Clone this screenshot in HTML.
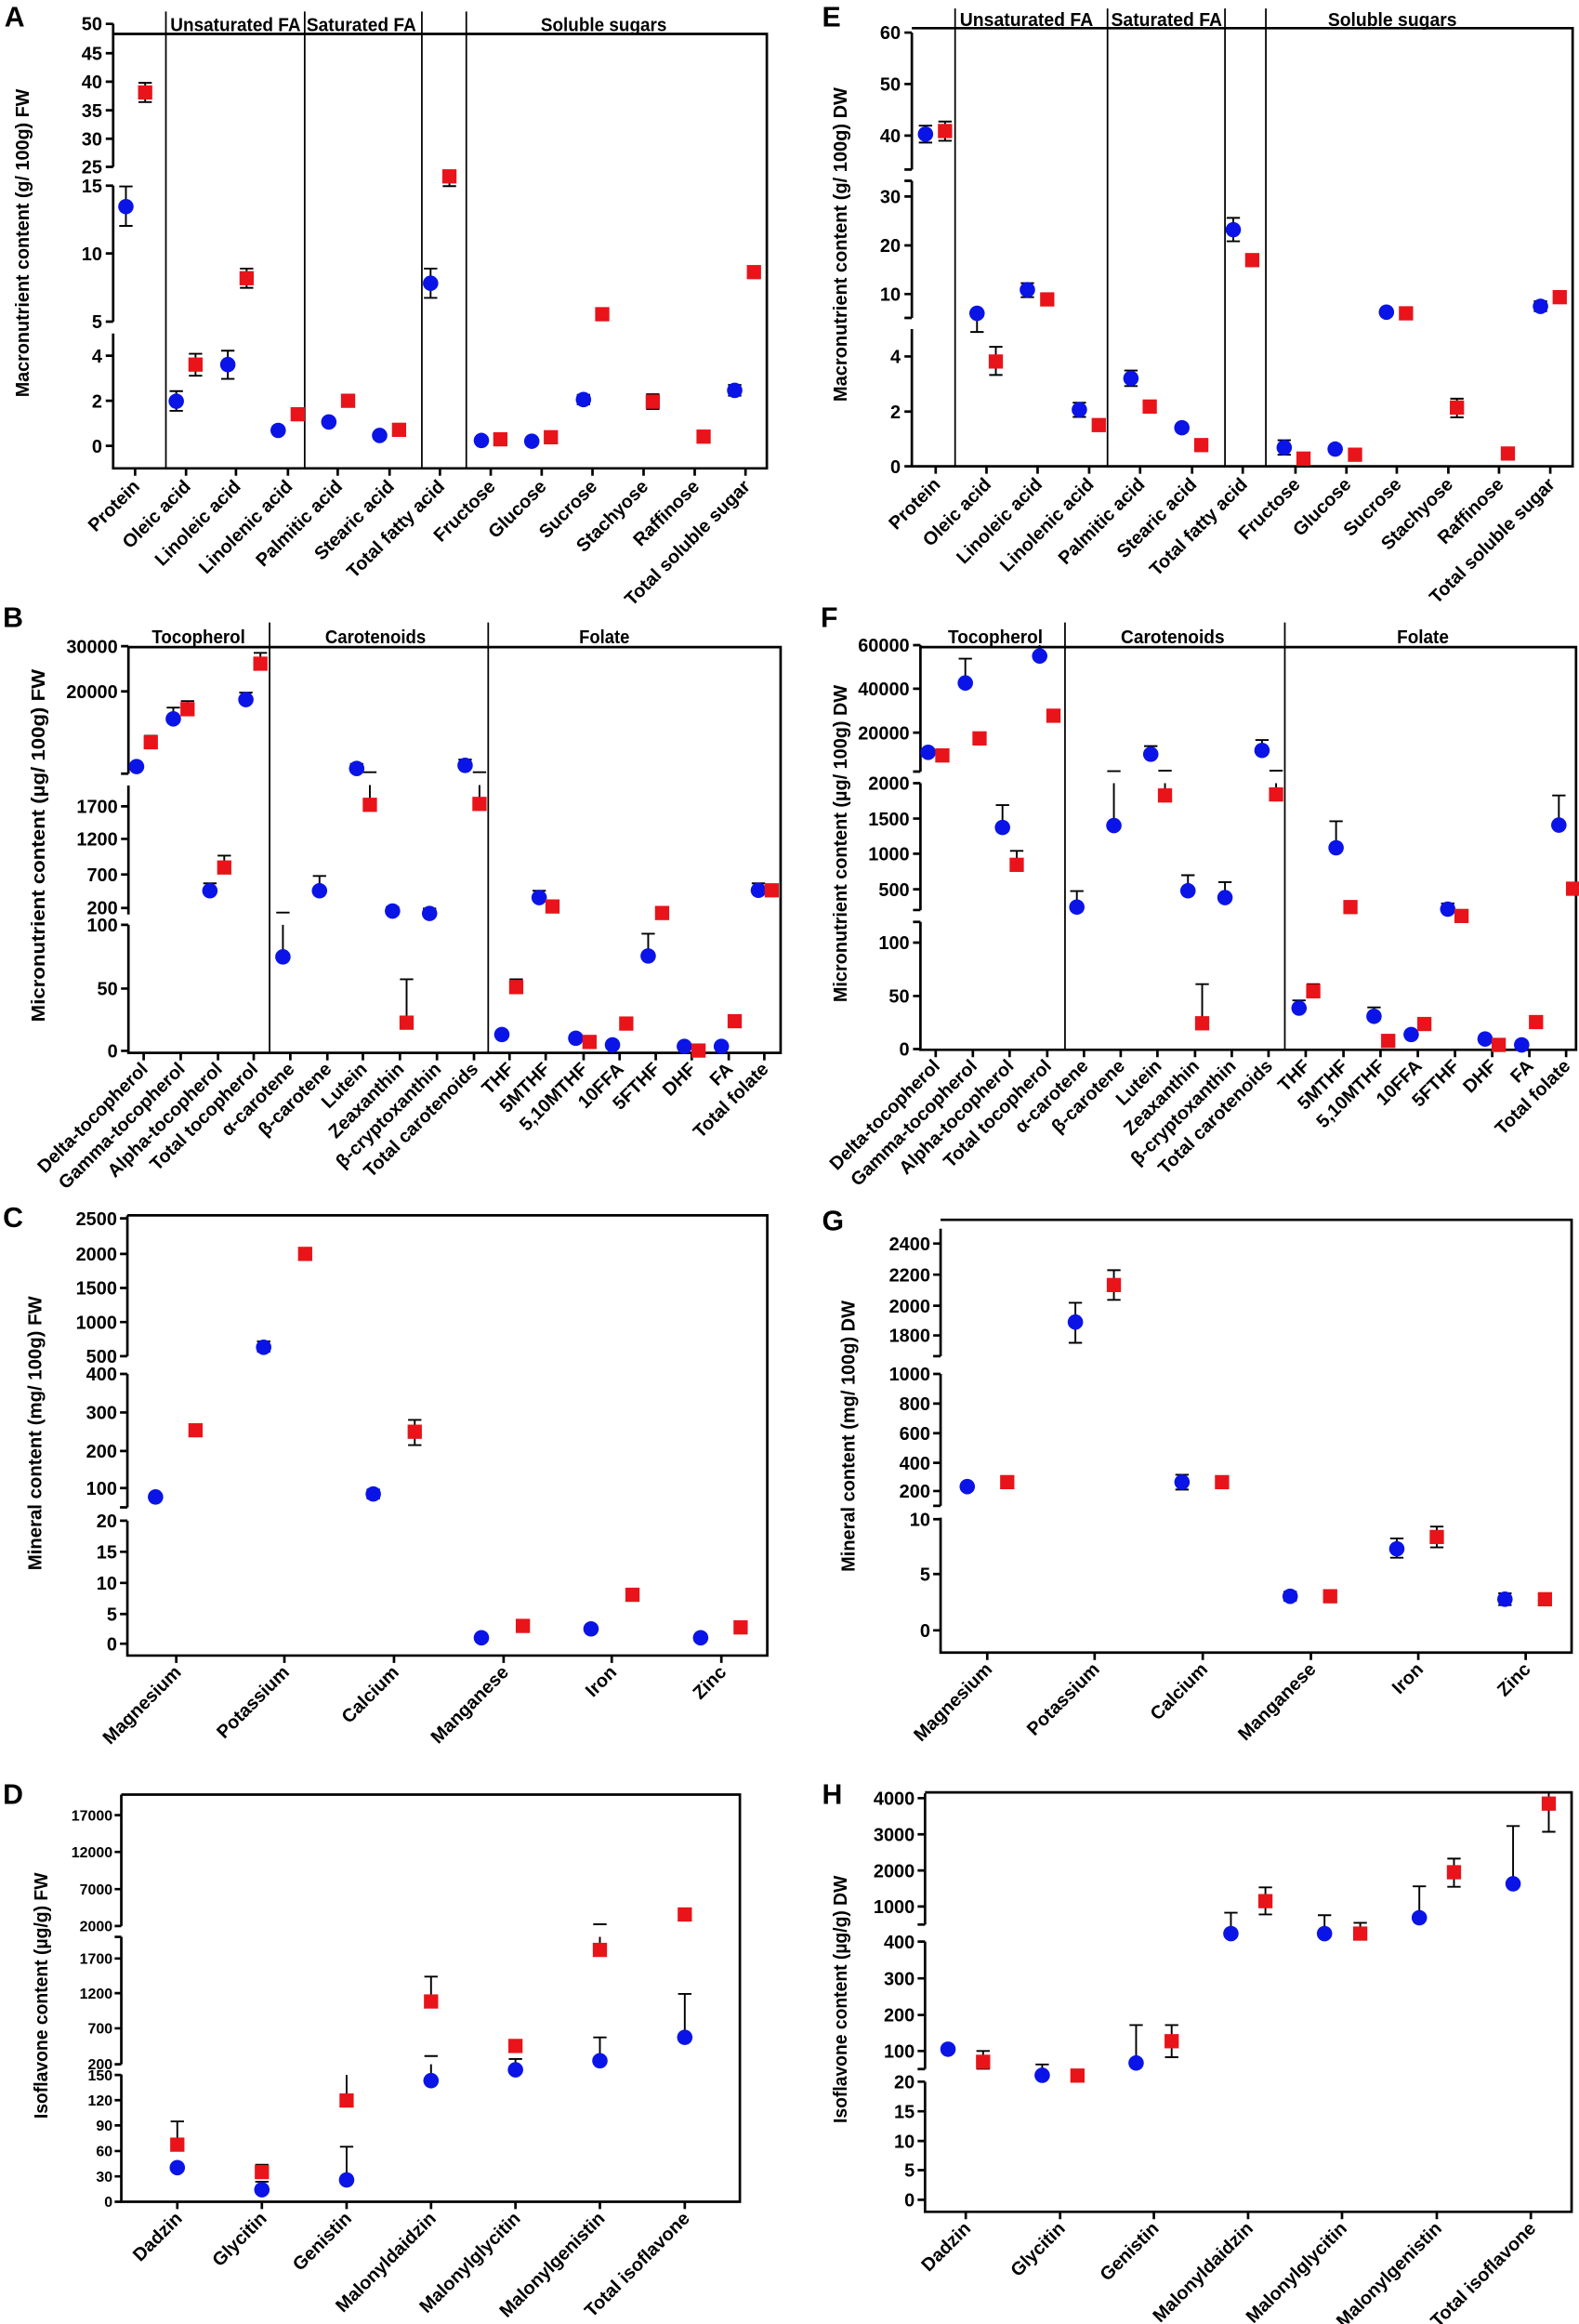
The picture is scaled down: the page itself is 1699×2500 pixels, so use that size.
<!DOCTYPE html>
<html><head><meta charset="utf-8"><style>
html,body{margin:0;padding:0;background:#fff}
svg{display:block}
text{font-family:"Liberation Sans",Arial,sans-serif;font-weight:bold;fill:#000}
.tk{font-size:12.5px;text-anchor:end}
.td{font-size:10px;text-anchor:end}
.hd{font-size:13px;text-anchor:middle}
.cl{font-size:12.5px;text-anchor:end}
.yt{font-size:12.5px;text-anchor:middle}
.pl{font-size:19px}
.ax{stroke:#000;stroke-width:1.7;fill:none}
.sp{stroke:#000;stroke-width:1.1;fill:none}
.eb{stroke:#000;stroke-width:1.2;fill:none}
</style></head><body>
<svg width="1699" height="2500" viewBox="0 0 1066 1568" preserveAspectRatio="none" xmlns="http://www.w3.org/2000/svg">
<defs>
<ellipse id="b" cx="0" cy="0" rx="5.2" ry="5.2" fill="#0a14e6"/>
<rect id="r" x="-4.8" y="-4.8" width="9.6" height="9.6" fill="#e8141a"/>
</defs>

<!-- ===== PANEL A ===== -->
<text class="pl" x="3" y="18">A</text>
<path class="ax" d="M76.4 16V112.6M76.4 125.3V217M76.4 225V316H517.7V22.9H76.4"/>
<path class="ax" d="M71.4 16.1h5M71.4 35.9h5M71.4 55.1h5M71.4 74.4h5M71.4 93.6h5M71.4 112.6h5M71.4 125.3h5M71.4 171h5M71.4 217h5M71.4 240h5M71.4 270.4h5M71.4 300.8h5"/>
<text class="tk" x="69" y="20.5">50</text><text class="tk" x="69" y="40.4">45</text><text class="tk" x="69" y="59.6">40</text><text class="tk" x="69" y="78.9">35</text><text class="tk" x="69" y="98.1">30</text><text class="tk" x="69" y="117.1">25</text><text class="tk" x="69" y="129.8">15</text><text class="tk" x="69" y="175.5">10</text><text class="tk" x="69" y="221.5">5</text><text class="tk" x="69" y="244.5">4</text><text class="tk" x="69" y="274.9">2</text><text class="tk" x="69" y="305.3">0</text>
<path class="sp" d="M112 7.8V316M205.7 7.8V316M284.8 7.8V316M314.8 7.8V316"/>
<text class="hd" x="159" y="21" textLength="88" lengthAdjust="spacingAndGlyphs">Unsaturated FA</text>
<text class="hd" x="244" y="21" textLength="74" lengthAdjust="spacingAndGlyphs">Saturated FA</text>
<text class="hd" x="407.6" y="21" textLength="85" lengthAdjust="spacingAndGlyphs">Soluble sugars</text>
<path class="ax" d="M91.2 316v5M125.6 316v5M159.3 316v5M194.4 316v5M228 316v5M263 316v5M297 316v5M331.3 316v5M365.7 316v5M400 316v5M434.5 316v5M469 316v5M503.3 316v5"/>
<text class="cl" transform="translate(95,329) rotate(-45)">Protein</text>
<text class="cl" transform="translate(129.4,329) rotate(-45)">Oleic acid</text>
<text class="cl" transform="translate(163.1,329) rotate(-45)">Linoleic acid</text>
<text class="cl" transform="translate(198.2,329) rotate(-45)">Linolenic acid</text>
<text class="cl" transform="translate(231.8,329) rotate(-45)">Palmitic acid</text>
<text class="cl" transform="translate(266.8,329) rotate(-45)">Stearic acid</text>
<text class="cl" transform="translate(300.8,329) rotate(-45)">Total fatty acid</text>
<text class="cl" transform="translate(335.1,329) rotate(-45)">Fructose</text>
<text class="cl" transform="translate(369.5,329) rotate(-45)">Glucose</text>
<text class="cl" transform="translate(403.8,329) rotate(-45)">Sucrose</text>
<text class="cl" transform="translate(438.3,329) rotate(-45)">Stachyose</text>
<text class="cl" transform="translate(472.8,329) rotate(-45)">Raffinose</text>
<text class="cl" transform="translate(507.1,329) rotate(-45)">Total soluble sugar</text>
<text class="yt" transform="translate(19.5,164) rotate(-90)" textLength="208" lengthAdjust="spacingAndGlyphs">Macronutrient content (g/ 100g) FW</text>
<path class="eb" d="M85 125.8V152.4M80.5 125.8h9M80.5 152.4h9M98 55.9V68.9M93.5 55.9h9M93.5 68.9h9M119 263.9V277.2M114.5 263.9h9M114.5 277.2h9M132 238.7V253.5M127.5 238.7h9M127.5 253.5h9M153.8 236.6V255.6M149.3 236.6h9M149.3 255.6h9M166.5 181.2V194.2M162 181.2h9M162 194.2h9M290.7 181.2V201M286.2 181.2h9M286.2 201h9M303.4 119V125.6M298.9 125.6h9M393.9 266.4V272.8M389.4 266.4h9M389.4 272.8h9M440.7 266V276M436.2 266h9M436.2 276h9M496 259.7V267M491.5 259.7h9M491.5 267h9"/>
<use href="#b" x="85" y="139.4"/><use href="#r" x="98" y="62.4"/>
<use href="#b" x="119" y="270.7"/><use href="#r" x="132" y="246"/>
<use href="#b" x="153.8" y="246"/><use href="#r" x="166.5" y="187.7"/>
<use href="#b" x="187.8" y="290.4"/><use href="#r" x="201" y="279.5"/>
<use href="#b" x="222" y="284.7"/><use href="#r" x="235" y="270.4"/>
<use href="#b" x="256.3" y="293.8"/><use href="#r" x="269.4" y="290"/>
<use href="#b" x="290.7" y="191.1"/><use href="#r" x="303.4" y="119"/>
<use href="#b" x="325" y="297.2"/><use href="#r" x="337.8" y="296.4"/>
<use href="#b" x="359" y="297.7"/><use href="#r" x="371.9" y="295"/>
<use href="#b" x="393.9" y="269.6"/><use href="#r" x="406.6" y="212"/>
<use href="#r" x="440.7" y="271"/>
<use href="#r" x="475" y="294.6"/>
<use href="#b" x="496" y="263.4"/><use href="#r" x="509" y="183.6"/>

<!-- ===== PANEL E ===== -->
<text class="pl" x="555" y="18">E</text>
<path class="ax" d="M615.6 22V114.4M615.6 122V214.5M615.6 222V314.6H1061.7V19H615.6"/>
<path class="ax" d="M610.6 22h5M610.6 56.7h5M610.6 91.5h5M610.6 114.4h5M610.6 122h5M610.6 132.6h5M610.6 165.6h5M610.6 198.4h5M610.6 214.5h5M610.6 240.5h5M610.6 277.7h5M610.6 314.6h5"/>
<text class="tk" x="608" y="26.5">60</text><text class="tk" x="608" y="61.2">50</text><text class="tk" x="608" y="96">40</text><text class="tk" x="608" y="137.1">30</text><text class="tk" x="608" y="170.1">20</text><text class="tk" x="608" y="202.9">10</text><text class="tk" x="608" y="245">4</text><text class="tk" x="608" y="282.2">2</text><text class="tk" x="608" y="319.1">0</text>
<path class="sp" d="M644.8 5.7V314.6M747.7 5.7V314.6M827 5.7V314.6M854.6 5.7V314.6"/>
<text class="hd" x="693" y="17.5" textLength="90" lengthAdjust="spacingAndGlyphs">Unsaturated FA</text>
<text class="hd" x="787.6" y="17.5" textLength="75" lengthAdjust="spacingAndGlyphs">Saturated FA</text>
<text class="hd" x="940" y="17.5" textLength="87" lengthAdjust="spacingAndGlyphs">Soluble sugars</text>
<path class="ax" d="M631.7 314.6v5M666 314.6v5M700.5 314.6v5M735.3 314.6v5M769.7 314.6v5M804.8 314.6v5M839 314.6v5M874.6 314.6v5M909 314.6v5M943 314.6v5M977.8 314.6v5M1012 314.6v5M1046.6 314.6v5"/>
<text class="cl" transform="translate(635.5,327.6) rotate(-45)">Protein</text>
<text class="cl" transform="translate(669.8,327.6) rotate(-45)">Oleic acid</text>
<text class="cl" transform="translate(704.3,327.6) rotate(-45)">Linoleic acid</text>
<text class="cl" transform="translate(739.1,327.6) rotate(-45)">Linolenic acid</text>
<text class="cl" transform="translate(773.5,327.6) rotate(-45)">Palmitic acid</text>
<text class="cl" transform="translate(808.6,327.6) rotate(-45)">Stearic acid</text>
<text class="cl" transform="translate(842.8,327.6) rotate(-45)">Total fatty acid</text>
<text class="cl" transform="translate(878.4,327.6) rotate(-45)">Fructose</text>
<text class="cl" transform="translate(912.8,327.6) rotate(-45)">Glucose</text>
<text class="cl" transform="translate(946.8,327.6) rotate(-45)">Sucrose</text>
<text class="cl" transform="translate(981.6,327.6) rotate(-45)">Stachyose</text>
<text class="cl" transform="translate(1015.8,327.6) rotate(-45)">Raffinose</text>
<text class="cl" transform="translate(1050.4,327.6) rotate(-45)">Total soluble sugar</text>
<text class="yt" transform="translate(571.5,165) rotate(-90)" textLength="212" lengthAdjust="spacingAndGlyphs">Macronutrient content (g/ 100g) DW</text>
<path class="eb" d="M624.8 84.8V96.2M620.3 84.8h9M620.3 96.2h9M638 82V95M633.5 82h9M633.5 95h9M659.6 211.4V224M655.1 224h9M672.3 234V253M667.8 234h9M667.8 253h9M693.6 191V200.5M689.1 191h9M689.1 200.5h9M728.7 271.7V281.3M724.2 271.7h9M724.2 281.3h9M763.5 250V260.5M759 250h9M759 260.5h9M832.6 147V162.8M828.1 147h9M828.1 162.8h9M867 297V306.8M862.5 297h9M862.5 306.8h9M983.6 269V281.6M979.1 269h9M979.1 281.6h9M1040 203.3V210M1035.5 203.3h9M1035.5 210h9"/>
<use href="#b" x="624.8" y="90.5"/><use href="#r" x="638" y="88.4"/>
<use href="#b" x="659.6" y="211.4"/><use href="#r" x="672.3" y="243.9"/>
<use href="#b" x="693.6" y="195.5"/><use href="#r" x="707" y="202"/>
<use href="#b" x="728.7" y="276.4"/><use href="#r" x="741.8" y="286.8"/>
<use href="#b" x="763.5" y="255.3"/><use href="#r" x="776.2" y="274.3"/>
<use href="#b" x="797.9" y="288.6"/><use href="#r" x="811" y="300.3"/>
<use href="#b" x="832.6" y="155"/><use href="#r" x="845.4" y="175.5"/>
<use href="#b" x="867" y="302"/><use href="#r" x="880" y="309.4"/>
<use href="#b" x="901.4" y="303"/><use href="#r" x="914.8" y="306.8"/>
<use href="#b" x="936" y="210.6"/><use href="#r" x="949.2" y="211.4"/>
<use href="#r" x="983.6" y="275"/>
<use href="#r" x="1018" y="306"/>
<use href="#b" x="1040" y="206.7"/><use href="#r" x="1053" y="200.5"/>

<!-- ===== PANEL B ===== -->
<text class="pl" x="2" y="423">B</text>
<path class="ax" d="M86.7 436V522M86.7 530V617M86.7 624V710.4H527V436.6H86.7"/>
<path class="ax" d="M81.7 436h5M81.7 466.5h5M81.7 522h5M81.7 544h5M81.7 566h5M81.7 590h5M81.7 612.6h5M81.7 624h5M81.7 667h5M81.7 709h5"/>
<text class="tk" x="79.5" y="440.5">30000</text><text class="tk" x="79.5" y="471">20000</text><text class="tk" x="79.5" y="548.5">1700</text><text class="tk" x="79.5" y="570.5">1200</text><text class="tk" x="79.5" y="594.5">700</text><text class="tk" x="79.5" y="617">200</text><text class="tk" x="79.5" y="628.5">100</text><text class="tk" x="79.5" y="671.5">50</text><text class="tk" x="79.5" y="713.5">0</text>
<path class="sp" d="M182 420V710.4M329.6 420V710.4"/>
<text class="hd" x="134" y="434" textLength="63" lengthAdjust="spacingAndGlyphs">Tocopherol</text>
<text class="hd" x="253.5" y="434" textLength="68" lengthAdjust="spacingAndGlyphs">Carotenoids</text>
<text class="hd" x="408" y="434" textLength="34" lengthAdjust="spacingAndGlyphs">Folate</text>
<path class="ax" d="M97 710.4v5M122 710.4v5M147.2 710.4v5M171.3 710.4v5M196 710.4v5M221 710.4v5M245 710.4v5M270 710.4v5M295 710.4v5M320 710.4v5M344 710.4v5M368.4 710.4v5M394 710.4v5M418.3 710.4v5M442.7 710.4v5M467 710.4v5M492 710.4v5M516 710.4v5"/>
<text class="cl" transform="translate(100.5,722) rotate(-45)">Delta-tocopherol</text>
<text class="cl" transform="translate(125.5,722) rotate(-45)">Gamma-tocopherol</text>
<text class="cl" transform="translate(150.7,722) rotate(-45)">Alpha-tocopherol</text>
<text class="cl" transform="translate(174.8,722) rotate(-45)">Total tocopherol</text>
<text class="cl" transform="translate(199.5,722) rotate(-45)">α-carotene</text>
<text class="cl" transform="translate(224.5,722) rotate(-45)">β-carotene</text>
<text class="cl" transform="translate(248.5,722) rotate(-45)">Lutein</text>
<text class="cl" transform="translate(273.5,722) rotate(-45)">Zeaxanthin</text>
<text class="cl" transform="translate(298.5,722) rotate(-45)">β-cryptoxanthin</text>
<text class="cl" transform="translate(323.5,722) rotate(-45)">Total carotenoids</text>
<text class="cl" transform="translate(347.5,722) rotate(-45)">THF</text>
<text class="cl" transform="translate(371.9,722) rotate(-45)">5MTHF</text>
<text class="cl" transform="translate(397.5,722) rotate(-45)">5,10MTHF</text>
<text class="cl" transform="translate(421.8,722) rotate(-45)">10FFA</text>
<text class="cl" transform="translate(446.2,722) rotate(-45)">5FTHF</text>
<text class="cl" transform="translate(470.5,722) rotate(-45)">DHF</text>
<text class="cl" transform="translate(495.5,722) rotate(-45)">FA</text>
<text class="cl" transform="translate(519.5,722) rotate(-45)">Total folate</text>
<text class="yt" transform="translate(30,570.5) rotate(-90)" textLength="238" lengthAdjust="spacingAndGlyphs">Micronutrient content (µg/ 100g) FW</text>
<path class="eb" d="M101.8 500.8V496.4M97.3 496.4h9M117 485V477.4M112.5 477.4h9M126.6 478.5V473M122.1 473h9M141.7 601V596M137.2 596h9M151.4 585.3V577.3M146.9 577.3h9M166 472V467.3M161.5 467.3h9M175.8 447.8V440.5M171.3 440.5h9M191 645.6V624M186.5 615.7h9M215.7 601V591M211.2 591h9M240.8 518.5V515.4M236.3 515.4h9M249.7 543V529.7M245.2 521h9M265 614.7V612M260.5 612h9M274.5 690V660.7M270 660.7h9M290 616.3V613M285.5 613h9M314 516.4V512.5M309.5 512.5h9M323.7 542.4V529.7M319.2 521h9M348.5 666V660.7M344 660.7h9M364 605.6V601M359.5 601h9M437.6 645V630M433.1 630h9M447 616V612M442.5 612h9M496 689V685M491.5 685h9M512 600.7V596M507.5 596h9"/>
<use href="#b" x="92.2" y="517.2"/><use href="#r" x="101.8" y="500.8"/>
<use href="#b" x="117" y="485"/><use href="#r" x="126.6" y="478.5"/>
<use href="#b" x="141.7" y="601"/><use href="#r" x="151.4" y="585.3"/>
<use href="#b" x="166" y="472"/><use href="#r" x="175.8" y="447.8"/>
<use href="#b" x="191" y="645.6"/>
<use href="#b" x="215.7" y="601"/>
<use href="#b" x="240.8" y="518.5"/><use href="#r" x="249.7" y="543"/>
<use href="#b" x="265" y="614.7"/><use href="#r" x="274.5" y="690"/>
<use href="#b" x="290" y="616.3"/>
<use href="#b" x="314" y="516.4"/><use href="#r" x="323.7" y="542.4"/>
<use href="#b" x="338.8" y="698"/><use href="#r" x="348.5" y="666"/>
<use href="#b" x="364" y="605.6"/><use href="#r" x="373" y="611.6"/>
<use href="#b" x="388.7" y="700.5"/><use href="#r" x="398" y="703"/>
<use href="#b" x="413.5" y="705"/><use href="#r" x="422.8" y="690.6"/>
<use href="#b" x="437.6" y="645"/><use href="#r" x="447" y="616"/>
<use href="#b" x="462" y="706"/><use href="#r" x="471.6" y="708.8"/>
<use href="#b" x="487" y="706"/><use href="#r" x="496" y="689"/>
<use href="#b" x="512" y="600.7"/><use href="#r" x="521" y="600.7"/>

<!-- ===== PANEL F ===== -->
<text class="pl" x="554" y="423">F</text>
<path class="ax" d="M621.4 435.3V520.6M621.4 528.4V614M621.4 622V708.3H1064V436.6H621.4"/>
<path class="ax" d="M616.4 435.3h5M616.4 464.7h5M616.4 494.3h5M616.4 520.6h5M616.4 528.4h5M616.4 552.3h5M616.4 576h5M616.4 600h5M616.4 614h5M616.4 622h5M616.4 636h5M616.4 672h5M616.4 707.8h5"/>
<text class="tk" x="614" y="439.8">60000</text><text class="tk" x="614" y="469.2">40000</text><text class="tk" x="614" y="498.8">20000</text><text class="tk" x="614" y="532.9">2000</text><text class="tk" x="614" y="556.8">1500</text><text class="tk" x="614" y="580.5">1000</text><text class="tk" x="614" y="604.5">500</text><text class="tk" x="614" y="640.5">100</text><text class="tk" x="614" y="676.5">50</text><text class="tk" x="614" y="712.3">0</text>
<path class="sp" d="M719 420V708.3M867.4 420V708.3"/>
<text class="hd" x="672" y="434" textLength="64" lengthAdjust="spacingAndGlyphs">Tocopherol</text>
<text class="hd" x="791.7" y="434" textLength="70" lengthAdjust="spacingAndGlyphs">Carotenoids</text>
<text class="hd" x="960.6" y="434" textLength="35" lengthAdjust="spacingAndGlyphs">Folate</text>
<path class="ax" d="M631.7 708.3v5M656.8 708.3v5M681.6 708.3v5M707 708.3v5M731.8 708.3v5M756.6 708.3v5M781.4 708.3v5M806.8 708.3v5M831.6 708.3v5M856.4 708.3v5M881.5 708.3v5M907 708.3v5M932 708.3v5M957.2 708.3v5M982.3 708.3v5M1007.4 708.3v5M1032.5 708.3v5M1057.3 708.3v5"/>
<text class="cl" transform="translate(635.2,720) rotate(-45)">Delta-tocopherol</text>
<text class="cl" transform="translate(660.3,720) rotate(-45)">Gamma-tocopherol</text>
<text class="cl" transform="translate(685.1,720) rotate(-45)">Alpha-tocopherol</text>
<text class="cl" transform="translate(710.5,720) rotate(-45)">Total tocopherol</text>
<text class="cl" transform="translate(735.3,720) rotate(-45)">α-carotene</text>
<text class="cl" transform="translate(760.1,720) rotate(-45)">β-carotene</text>
<text class="cl" transform="translate(784.9,720) rotate(-45)">Lutein</text>
<text class="cl" transform="translate(810.3,720) rotate(-45)">Zeaxanthin</text>
<text class="cl" transform="translate(835.1,720) rotate(-45)">β-cryptoxanthin</text>
<text class="cl" transform="translate(859.9,720) rotate(-45)">Total carotenoids</text>
<text class="cl" transform="translate(885,720) rotate(-45)">THF</text>
<text class="cl" transform="translate(910.5,720) rotate(-45)">5MTHF</text>
<text class="cl" transform="translate(935.5,720) rotate(-45)">5,10MTHF</text>
<text class="cl" transform="translate(960.7,720) rotate(-45)">10FFA</text>
<text class="cl" transform="translate(985.8,720) rotate(-45)">5FTHF</text>
<text class="cl" transform="translate(1010.9,720) rotate(-45)">DHF</text>
<text class="cl" transform="translate(1036,720) rotate(-45)">FA</text>
<text class="cl" transform="translate(1060.8,720) rotate(-45)">Total folate</text>
<text class="yt" transform="translate(571.5,569.2) rotate(-90)" textLength="214" lengthAdjust="spacingAndGlyphs">Micronutrient content (µg/ 100g) DW</text>
<path class="eb" d="M651.7 460.8V444.4M647.2 444.4h9M676.8 558.3V543.2M672.3 543.2h9M686.4 583.5V574.1M681.9 574.1h9M701.9 442.6V435.3M727 612V601.2M722.5 601.2h9M752 557V528.4M747.5 520.3h9M776.9 508.9V503.4M772.4 503.4h9M786.5 536.7V528.4M782 520h9M802 601V590.5M797.5 590.5h9M811.6 690.4V664M807.1 664h9M827 605.6V595.2M822.5 595.2h9M852 506.3V499.3M847.5 499.3h9M861.5 536V528.4M857 520h9M877 680.2V675M872.5 675h9M886.6 668.8V664M882.1 664h9M902 572V554.1M897.5 554.1h9M927.6 685.7V679.7M923.1 679.7h9M977.4 613.4V609.5M972.9 609.5h9M1052.4 556.7V536.7M1047.9 536.7h9"/>
<use href="#b" x="626.6" y="507.6"/><use href="#r" x="636.2" y="509.7"/>
<use href="#b" x="651.7" y="460.8"/><use href="#r" x="661.3" y="498.2"/>
<use href="#b" x="676.8" y="558.3"/><use href="#r" x="686.4" y="583.5"/>
<use href="#b" x="701.9" y="442.6"/><use href="#r" x="711.2" y="482.9"/>
<use href="#b" x="727" y="612"/>
<use href="#b" x="752" y="557"/>
<use href="#b" x="776.9" y="508.9"/><use href="#r" x="786.5" y="536.7"/>
<use href="#b" x="802" y="601"/><use href="#r" x="811.6" y="690.4"/>
<use href="#b" x="827" y="605.6"/>
<use href="#b" x="852" y="506.3"/><use href="#r" x="861.5" y="536"/>
<use href="#b" x="877" y="680.2"/><use href="#r" x="886.6" y="668.8"/>
<use href="#b" x="902" y="572"/><use href="#r" x="911.7" y="612"/>
<use href="#b" x="927.6" y="685.7"/><use href="#r" x="937.2" y="702.3"/>
<use href="#b" x="952.7" y="698"/><use href="#r" x="961.6" y="690.9"/>
<use href="#b" x="977.4" y="613.4"/><use href="#r" x="986.7" y="618"/>
<use href="#b" x="1002.6" y="701"/><use href="#r" x="1011.8" y="705"/>
<use href="#b" x="1027.3" y="705"/><use href="#r" x="1037" y="689.6"/>
<use href="#b" x="1052.4" y="556.7"/><use href="#r" x="1062" y="599.6"/>

<!-- ===== PANEL C ===== -->
<text class="pl" x="2" y="828">C</text>
<path class="ax" d="M86 820V915M86 927V1017M86 1026V1117H518V820H86"/>
<path class="ax" d="M81 822h5M81 846h5M81 869h5M81 892h5M81 915h5M81 927h5M81 953h5M81 979h5M81 1004h5M81 1017h5M81 1026h5M81 1047h5M81 1068h5M81 1089h5M81 1109h5"/>
<text class="tk" x="79" y="826.5">2500</text><text class="tk" x="79" y="850.5">2000</text><text class="tk" x="79" y="873.5">1500</text><text class="tk" x="79" y="896.5">1000</text><text class="tk" x="79" y="919.5">500</text><text class="tk" x="79" y="931.5">400</text><text class="tk" x="79" y="957.5">300</text><text class="tk" x="79" y="983.5">200</text><text class="tk" x="79" y="1008.5">100</text><text class="tk" x="79" y="1030.5">20</text><text class="tk" x="79" y="1051.5">15</text><text class="tk" x="79" y="1072.5">10</text><text class="tk" x="79" y="1093.5">5</text><text class="tk" x="79" y="1113.5">0</text>
<path class="ax" d="M119 1117v5M192 1117v5M266 1117v5M340 1117v5M413 1117v5M487 1117v5"/>
<text class="cl" transform="translate(123,1129) rotate(-45)">Magnesium</text>
<text class="cl" transform="translate(196,1129) rotate(-45)">Potassium</text>
<text class="cl" transform="translate(270,1129) rotate(-45)">Calcium</text>
<text class="cl" transform="translate(344,1129) rotate(-45)">Manganese</text>
<text class="cl" transform="translate(417,1129) rotate(-45)">Iron</text>
<text class="cl" transform="translate(491,1129) rotate(-45)">Zinc</text>
<text class="yt" transform="translate(28,967) rotate(-90)" textLength="185" lengthAdjust="spacingAndGlyphs">Mineral content (mg/ 100g) FW</text>
<path class="eb" d="M178 905V912M173.5 905h9M173.5 912h9M280 958V975M275.5 958h9M275.5 975h9M252 1005V1011M247.5 1005h9M247.5 1011h9"/>
<use href="#b" x="105" y="1010"/><use href="#r" x="132" y="965"/>
<use href="#b" x="178" y="909"/><use href="#r" x="206" y="846"/>
<use href="#b" x="252" y="1008"/><use href="#r" x="280" y="966"/>
<use href="#b" x="325" y="1105"/><use href="#r" x="353" y="1097"/>
<use href="#b" x="399" y="1099"/><use href="#r" x="427" y="1076"/>
<use href="#b" x="473" y="1105"/><use href="#r" x="500" y="1098"/>

<!-- ===== PANEL G ===== -->
<text class="pl" x="555" y="830">G</text>
<path class="ax" d="M635 829V915M635 927V1016M635 1024V1115H1061V823H635"/>
<path class="ax" d="M630 839h5M630 860h5M630 881h5M630 901h5M630 915h5M630 927h5M630 947h5M630 967h5M630 987h5M630 1006h5M630 1016h5M630 1025h5M630 1062h5M630 1100h5"/>
<text class="tk" x="628" y="843.5">2400</text><text class="tk" x="628" y="864.5">2200</text><text class="tk" x="628" y="885.5">2000</text><text class="tk" x="628" y="905.5">1800</text><text class="tk" x="628" y="931.5">1000</text><text class="tk" x="628" y="951.5">800</text><text class="tk" x="628" y="971.5">600</text><text class="tk" x="628" y="991.5">400</text><text class="tk" x="628" y="1010.5">200</text><text class="tk" x="628" y="1029.5">10</text><text class="tk" x="628" y="1066.5">5</text><text class="tk" x="628" y="1104.5">0</text>
<path class="ax" d="M666.5 1115v5M739 1115v5M812 1115v5M885 1115v5M957.5 1115v5M1030 1115v5"/>
<text class="cl" transform="translate(670.5,1127) rotate(-45)">Magnesium</text>
<text class="cl" transform="translate(743,1127) rotate(-45)">Potassium</text>
<text class="cl" transform="translate(816,1127) rotate(-45)">Calcium</text>
<text class="cl" transform="translate(889,1127) rotate(-45)">Manganese</text>
<text class="cl" transform="translate(961.5,1127) rotate(-45)">Iron</text>
<text class="cl" transform="translate(1034,1127) rotate(-45)">Zinc</text>
<text class="yt" transform="translate(577,969) rotate(-90)" textLength="183" lengthAdjust="spacingAndGlyphs">Mineral content (mg/ 100g) DW</text>
<path class="eb" d="M726 879V906M721.5 879h9M721.5 906h9M752 857V877M747.5 857h9M747.5 877h9M798 995V1005M793.5 995h9M793.5 1005h9M871 1074V1080M866.5 1074h9M866.5 1080h9M943 1038V1051M938.5 1038h9M938.5 1051h9M970 1030V1044M965.5 1030h9M965.5 1044h9M1016 1075V1083M1011.5 1075h9M1011.5 1083h9"/>
<use href="#b" x="653" y="1003"/><use href="#r" x="680" y="1000"/>
<use href="#b" x="726" y="892"/><use href="#r" x="752" y="867"/>
<use href="#b" x="798" y="1000"/><use href="#r" x="825" y="1000"/>
<use href="#b" x="871" y="1077"/><use href="#r" x="898" y="1077"/>
<use href="#b" x="943" y="1045"/><use href="#r" x="970" y="1037"/>
<use href="#b" x="1016" y="1079"/><use href="#r" x="1043" y="1079"/>

<!-- ===== PANEL D ===== -->
<text class="pl" x="2" y="1217">D</text>
<path class="ax" d="M81.9 1210.8V1299.5M81.9 1306.8V1392.8M81.9 1399.7V1485.5H499.5V1210.8H81.9"/>
<path class="ax" d="M77.4 1224.7h4.5M77.4 1249.5h4.5M77.4 1274.6h4.5M77.4 1299.5h4.5M77.4 1306.8h4.5M77.4 1321.4h4.5M77.4 1344.8h4.5M77.4 1368.5h4.5M77.4 1392.8h4.5M77.4 1400h4.5M77.4 1417h4.5M77.4 1434h4.5M77.4 1451.3h4.5M77.4 1468.4h4.5M77.4 1485.5h4.5"/>
<text class="td" x="76" y="1228.3">17000</text><text class="td" x="76" y="1253.1">12000</text><text class="td" x="76" y="1278.2">7000</text><text class="td" x="76" y="1303.1">2000</text><text class="td" x="76" y="1325">1700</text><text class="td" x="76" y="1348.4">1200</text><text class="td" x="76" y="1372.1">700</text><text class="td" x="76" y="1396.3">200</text><text class="td" x="76" y="1403.6">150</text><text class="td" x="76" y="1420.6">120</text><text class="td" x="76" y="1437.6">90</text><text class="td" x="76" y="1454.9">60</text><text class="td" x="76" y="1472">30</text><text class="td" x="76" y="1489.1">0</text>
<path class="ax" d="M119.7 1485.5v5M176.8 1485.5v5M234 1485.5v5M291 1485.5v5M348 1485.5v5M405 1485.5v5M462.3 1485.5v5"/>
<text class="cl" transform="translate(123.7,1497.5) rotate(-45)">Dadzin</text>
<text class="cl" transform="translate(180.8,1497.5) rotate(-45)">Glycitin</text>
<text class="cl" transform="translate(238,1497.5) rotate(-45)">Genistin</text>
<text class="cl" transform="translate(295,1497.5) rotate(-45)">Malonyldaidzin</text>
<text class="cl" transform="translate(352,1497.5) rotate(-45)">Malonylglycitin</text>
<text class="cl" transform="translate(409,1497.5) rotate(-45)">Malonylgenistin</text>
<text class="cl" transform="translate(466.3,1497.5) rotate(-45)">Total isoflavone</text>
<text class="yt" transform="translate(32,1346.5) rotate(-90)" textLength="166" lengthAdjust="spacingAndGlyphs">Isoflavone content (µg/g) FW</text>
<path class="eb" d="M119.7 1447V1431.3M115.2 1431.3h9M176.8 1477.4V1472M172.3 1472h9M176.8 1465.5V1460.6M172.3 1460.6h9M234 1470.8V1448.4M229.5 1448.4h9M234 1417.2V1400M291 1403.8V1392.8M286.5 1387.2h9M291 1350.4V1333.6M286.5 1333.6h9M348 1396.5V1389.2M343.5 1389.2h9M405 1390.4V1374.6M400.5 1374.6h9M405 1315.6V1306.8M400.5 1298.3h9M462.3 1374.6V1345.3M457.8 1345.3h9"/>
<use href="#b" x="119.7" y="1462.5"/><use href="#r" x="119.7" y="1447"/>
<use href="#b" x="176.8" y="1477.4"/><use href="#r" x="176.8" y="1465.5"/>
<use href="#b" x="234" y="1470.8"/><use href="#r" x="234" y="1417.2"/>
<use href="#b" x="291" y="1403.8"/><use href="#r" x="291" y="1350.4"/>
<use href="#b" x="348" y="1396.5"/><use href="#r" x="348" y="1380.4"/>
<use href="#b" x="405" y="1390.4"/><use href="#r" x="405" y="1315.6"/>
<use href="#b" x="462.3" y="1374.6"/><use href="#r" x="462.3" y="1291.7"/>

<!-- ===== PANEL H ===== -->
<text class="pl" x="555" y="1217">H</text>
<path class="ax" d="M624.5 1210V1298.5M624.5 1310V1396M624.5 1404.5V1492.3H1061V1209.3H624.5"/>
<path class="ax" d="M619.5 1213.2h5M619.5 1237.6h5M619.5 1262h5M619.5 1286.3h5M619.5 1298.5h5M619.5 1310h5M619.5 1334.8h5M619.5 1359.5h5M619.5 1383.8h5M619.5 1396h5M619.5 1404.5h5M619.5 1424.5h5M619.5 1444.5h5M619.5 1464.2h5M619.5 1484.2h5"/>
<text class="tk" x="617.5" y="1217.7">4000</text><text class="tk" x="617.5" y="1242.1">3000</text><text class="tk" x="617.5" y="1266.5">2000</text><text class="tk" x="617.5" y="1290.8">1000</text><text class="tk" x="617.5" y="1314.5">400</text><text class="tk" x="617.5" y="1339.3">300</text><text class="tk" x="617.5" y="1364">200</text><text class="tk" x="617.5" y="1388.3">100</text><text class="tk" x="617.5" y="1409">20</text><text class="tk" x="617.5" y="1429">15</text><text class="tk" x="617.5" y="1449">10</text><text class="tk" x="617.5" y="1468.7">5</text><text class="tk" x="617.5" y="1488.7">0</text>
<path class="ax" d="M652 1492.3v5M715.7 1492.3v5M779 1492.3v5M842.6 1492.3v5M906 1492.3v5M970 1492.3v5M1033.5 1492.3v5"/>
<text class="cl" transform="translate(656,1504.3) rotate(-45)">Dadzin</text>
<text class="cl" transform="translate(719.7,1504.3) rotate(-45)">Glycitin</text>
<text class="cl" transform="translate(783,1504.3) rotate(-45)">Genistin</text>
<text class="cl" transform="translate(846.6,1504.3) rotate(-45)">Malonyldaidzin</text>
<text class="cl" transform="translate(910,1504.3) rotate(-45)">Malonylglycitin</text>
<text class="cl" transform="translate(974,1504.3) rotate(-45)">Malonylgenistin</text>
<text class="cl" transform="translate(1037.5,1504.3) rotate(-45)">Total isoflavone</text>
<text class="yt" transform="translate(571.5,1349) rotate(-90)" textLength="167" lengthAdjust="spacingAndGlyphs">Isoflavone content (µg/g) DW</text>
<path class="eb" d="M663.7 1383.8V1395.8M659.2 1383.8h9M659.2 1395.8h9M703.6 1400.2V1392.9M699.1 1392.9h9M767 1391.9V1366.3M762.5 1366.3h9M791 1366.3V1388M786.5 1366.3h9M786.5 1388h9M831 1304.6V1290.5M826.5 1290.5h9M854.3 1273.4V1291.7M849.8 1273.4h9M849.8 1291.7h9M894.2 1304.6V1292.2M889.7 1292.2h9M918.3 1304.6V1297.3M913.8 1297.3h9M958.2 1293.9V1272.7M953.7 1272.7h9M981.6 1254V1273M977.1 1254h9M977.1 1273h9M1021.5 1271V1232M1017 1232h9M1045.6 1210V1235.9M1041.1 1235.9h9"/>
<use href="#b" x="640" y="1382.6"/><use href="#r" x="663.7" y="1391.1"/>
<use href="#b" x="703.6" y="1400.2"/><use href="#r" x="727.4" y="1400.4"/>
<use href="#b" x="767" y="1391.9"/><use href="#r" x="791" y="1377.2"/>
<use href="#b" x="831" y="1304.6"/><use href="#r" x="854.3" y="1282.7"/>
<use href="#b" x="894.2" y="1304.6"/><use href="#r" x="918.3" y="1304.6"/>
<use href="#b" x="958.2" y="1293.9"/><use href="#r" x="981.6" y="1263.2"/>
<use href="#b" x="1021.5" y="1271"/><use href="#r" x="1045.6" y="1216.9"/>
</svg>
</body></html>
